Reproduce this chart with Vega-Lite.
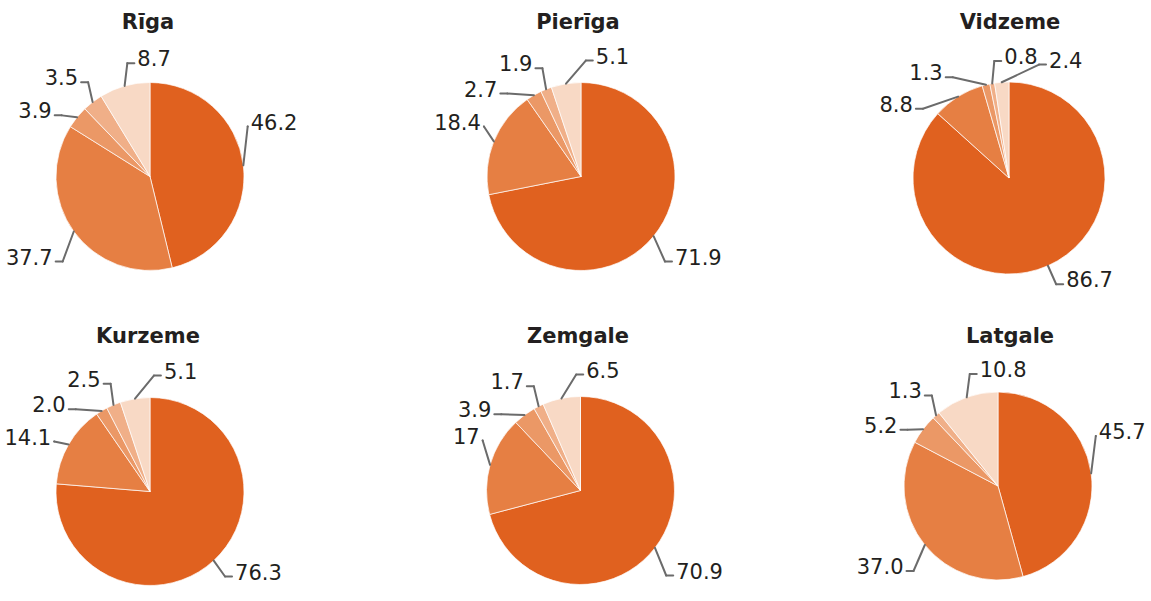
{
  "$schema": "https://vega.github.io/schema/vega-lite/v6.json",
  "background": "white",
  "padding": {"left": 0, "top": 12, "right": 0, "bottom": 0},
  "data": {"values": [
    {"region": "Rīga", "idx": 1, "v": 46.2, "label": "46.2"},
    {"region": "Rīga", "idx": 2, "v": 37.7, "label": "37.7"},
    {"region": "Rīga", "idx": 3, "v": 3.9, "label": "3.9"},
    {"region": "Rīga", "idx": 4, "v": 3.5, "label": "3.5"},
    {"region": "Rīga", "idx": 5, "v": 8.7, "label": "8.7"},
    {"region": "Pierīga", "idx": 1, "v": 71.9, "label": "71.9"},
    {"region": "Pierīga", "idx": 2, "v": 18.4, "label": "18.4"},
    {"region": "Pierīga", "idx": 3, "v": 2.7, "label": "2.7"},
    {"region": "Pierīga", "idx": 4, "v": 1.9, "label": "1.9"},
    {"region": "Pierīga", "idx": 5, "v": 5.1, "label": "5.1"},
    {"region": "Vidzeme", "idx": 1, "v": 86.7, "label": "86.7"},
    {"region": "Vidzeme", "idx": 2, "v": 8.8, "label": "8.8"},
    {"region": "Vidzeme", "idx": 3, "v": 1.3, "label": "1.3"},
    {"region": "Vidzeme", "idx": 4, "v": 0.8, "label": "0.8"},
    {"region": "Vidzeme", "idx": 5, "v": 2.4, "label": "2.4"},
    {"region": "Kurzeme", "idx": 1, "v": 76.3, "label": "76.3"},
    {"region": "Kurzeme", "idx": 2, "v": 14.1, "label": "14.1"},
    {"region": "Kurzeme", "idx": 3, "v": 2.0, "label": "2.0"},
    {"region": "Kurzeme", "idx": 4, "v": 2.5, "label": "2.5"},
    {"region": "Kurzeme", "idx": 5, "v": 5.1, "label": "5.1"},
    {"region": "Zemgale", "idx": 1, "v": 70.9, "label": "70.9"},
    {"region": "Zemgale", "idx": 2, "v": 17, "label": "17"},
    {"region": "Zemgale", "idx": 3, "v": 3.9, "label": "3.9"},
    {"region": "Zemgale", "idx": 4, "v": 1.7, "label": "1.7"},
    {"region": "Zemgale", "idx": 5, "v": 6.5, "label": "6.5"},
    {"region": "Latgale", "idx": 1, "v": 45.7, "label": "45.7"},
    {"region": "Latgale", "idx": 2, "v": 37.0, "label": "37.0"},
    {"region": "Latgale", "idx": 3, "v": 5.2, "label": "5.2"},
    {"region": "Latgale", "idx": 4, "v": 1.3, "label": "1.3"},
    {"region": "Latgale", "idx": 5, "v": 10.8, "label": "10.8"}
  ]},
  "transform": [
    {"window": [{"op": "sum", "field": "v", "as": "cum"}], "groupby": ["region"], "sort": [{"field": "idx", "order": "ascending"}], "frame": [null, 0]},
    {"calculate": "2*PI*(datum.cum - datum.v/2)/100", "as": "a"},
    {"calculate": "datum.a - datum.idx*0.384", "as": "b"},
    {"window": [{"op": "max", "field": "b", "as": "fm"}], "groupby": ["region"], "sort": [{"field": "idx", "order": "ascending"}], "frame": [null, 0]},
    {"window": [{"op": "min", "field": "b", "as": "bm"}], "groupby": ["region"], "sort": [{"field": "idx", "order": "ascending"}], "frame": [0, null]},
    {"calculate": "(datum.fm + datum.bm)/2 + datum.idx*0.384", "as": "la"},
    {"calculate": "datum.region == 'Vidzeme' ? 96 : 94", "as": "R"},
    {"calculate": "datum.R + 2 + 20*abs(cos(datum.la))", "as": "Re"},
    {"calculate": "datum.R*sin(datum.a)", "as": "x0"},
    {"calculate": "datum.R*cos(datum.a)", "as": "y0"},
    {"calculate": "datum.Re*sin(datum.la)", "as": "x1"},
    {"calculate": "datum.Re*cos(datum.la)", "as": "yr"},
    {"calculate": "datum.yr >= 0 ? max(datum.yr, 50) : min(datum.yr, -85)", "as": "y1"},
    {"calculate": "(datum.la > 2*PI - 0.3 || sin(datum.la) >= 0) ? 1 : -1", "as": "s"},
    {"calculate": "(datum.yr >= 0 && datum.yr < 50) ? datum.x1 : datum.x1 + datum.s*7", "as": "x2"},
    {"calculate": "datum.x2 + datum.s*3", "as": "xt"}
  ],
  "columns": 3,
  "spacing": {"row": 44, "column": 132},
  "bounds": "flush",
  "concat": [
      {"width": 296, "height": 270, "title": {"text": "Rīga"},
       "transform": [{"filter": "datum.region == 'Rīga'"}],
       "layer": [
        {"mark": {"type": "arc", "outerRadius": 94, "stroke": "#ffffff", "strokeWidth": 0.7},
         "encoding": {"theta": {"field": "v", "type": "quantitative", "stack": true},
          "order": {"field": "idx", "type": "quantitative"},
          "color": {"field": "idx", "type": "ordinal", "scale": {"domain": [1,2,3,4,5], "range": ["#E0611F","#E67F43","#EB9866","#F0AF88","#F8D9C5"]}, "legend": null},
          "x": {"datum": 0, "type": "quantitative", "scale": {"domain": [-150,146], "nice": false, "zero": false}, "axis": null},
          "y": {"datum": 0, "type": "quantitative", "scale": {"domain": [-128.5,141.5], "nice": false, "zero": false}, "axis": null}}},
        {"mark": {"type": "rule", "color": "#6b6b6b", "strokeWidth": 2, "strokeCap": "round"},
         "encoding": {"x": {"field": "x0", "type": "quantitative", "scale": {"domain": [-150,146], "nice": false, "zero": false}, "axis": null},
          "y": {"field": "y0", "type": "quantitative", "scale": {"domain": [-128.5,141.5], "nice": false, "zero": false}, "axis": null},
          "x2": {"field": "x1"}, "y2": {"field": "y1"}}},
        {"mark": {"type": "rule", "color": "#6b6b6b", "strokeWidth": 2, "strokeCap": "round"},
         "encoding": {"x": {"field": "x1", "type": "quantitative", "scale": {"domain": [-150,146], "nice": false, "zero": false}, "axis": null},
          "y": {"field": "y1", "type": "quantitative", "scale": {"domain": [-128.5,141.5], "nice": false, "zero": false}, "axis": null},
          "x2": {"field": "x2"}, "y2": {"field": "y1"}}},
        {"transform": [{"filter": "datum.s > 0"}],
         "mark": {"type": "text", "align": "left", "baseline": "middle", "dy": -3},
         "encoding": {"x": {"field": "xt", "type": "quantitative", "scale": {"domain": [-150,146], "nice": false, "zero": false}, "axis": null},
          "y": {"field": "y1", "type": "quantitative", "scale": {"domain": [-128.5,141.5], "nice": false, "zero": false}, "axis": null},
          "text": {"field": "label"}}},
        {"transform": [{"filter": "datum.s < 0"}],
         "mark": {"type": "text", "align": "right", "baseline": "middle", "dy": -3},
         "encoding": {"x": {"field": "xt", "type": "quantitative", "scale": {"domain": [-150,146], "nice": false, "zero": false}, "axis": null},
          "y": {"field": "y1", "type": "quantitative", "scale": {"domain": [-128.5,141.5], "nice": false, "zero": false}, "axis": null},
          "text": {"field": "label"}}}
       ]},
      {"width": 300, "height": 270, "title": {"text": "Pierīga"},
       "transform": [{"filter": "datum.region == 'Pierīga'"}],
       "layer": [
        {"mark": {"type": "arc", "outerRadius": 94, "stroke": "#ffffff", "strokeWidth": 0.7},
         "encoding": {"theta": {"field": "v", "type": "quantitative", "stack": true},
          "order": {"field": "idx", "type": "quantitative"},
          "color": {"field": "idx", "type": "ordinal", "scale": {"domain": [1,2,3,4,5], "range": ["#E0611F","#E67F43","#EB9866","#F0AF88","#F8D9C5"]}, "legend": null},
          "x": {"datum": 0, "type": "quantitative", "scale": {"domain": [-153,147], "nice": false, "zero": false}, "axis": null},
          "y": {"datum": 0, "type": "quantitative", "scale": {"domain": [-128.5,141.5], "nice": false, "zero": false}, "axis": null}}},
        {"mark": {"type": "rule", "color": "#6b6b6b", "strokeWidth": 2, "strokeCap": "round"},
         "encoding": {"x": {"field": "x0", "type": "quantitative", "scale": {"domain": [-153,147], "nice": false, "zero": false}, "axis": null},
          "y": {"field": "y0", "type": "quantitative", "scale": {"domain": [-128.5,141.5], "nice": false, "zero": false}, "axis": null},
          "x2": {"field": "x1"}, "y2": {"field": "y1"}}},
        {"mark": {"type": "rule", "color": "#6b6b6b", "strokeWidth": 2, "strokeCap": "round"},
         "encoding": {"x": {"field": "x1", "type": "quantitative", "scale": {"domain": [-153,147], "nice": false, "zero": false}, "axis": null},
          "y": {"field": "y1", "type": "quantitative", "scale": {"domain": [-128.5,141.5], "nice": false, "zero": false}, "axis": null},
          "x2": {"field": "x2"}, "y2": {"field": "y1"}}},
        {"transform": [{"filter": "datum.s > 0"}],
         "mark": {"type": "text", "align": "left", "baseline": "middle", "dy": -3},
         "encoding": {"x": {"field": "xt", "type": "quantitative", "scale": {"domain": [-153,147], "nice": false, "zero": false}, "axis": null},
          "y": {"field": "y1", "type": "quantitative", "scale": {"domain": [-128.5,141.5], "nice": false, "zero": false}, "axis": null},
          "text": {"field": "label"}}},
        {"transform": [{"filter": "datum.s < 0"}],
         "mark": {"type": "text", "align": "right", "baseline": "middle", "dy": -3},
         "encoding": {"x": {"field": "xt", "type": "quantitative", "scale": {"domain": [-153,147], "nice": false, "zero": false}, "axis": null},
          "y": {"field": "y1", "type": "quantitative", "scale": {"domain": [-128.5,141.5], "nice": false, "zero": false}, "axis": null},
          "text": {"field": "label"}}}
       ]},
      {"width": 300, "height": 270, "title": {"text": "Vidzeme"},
       "transform": [{"filter": "datum.region == 'Vidzeme'"}],
       "layer": [
        {"mark": {"type": "arc", "outerRadius": 96, "stroke": "#ffffff", "strokeWidth": 0.7},
         "encoding": {"theta": {"field": "v", "type": "quantitative", "stack": true},
          "order": {"field": "idx", "type": "quantitative"},
          "color": {"field": "idx", "type": "ordinal", "scale": {"domain": [1,2,3,4,5], "range": ["#E0611F","#E67F43","#EB9866","#F0AF88","#F8D9C5"]}, "legend": null},
          "x": {"datum": 0, "type": "quantitative", "scale": {"domain": [-149,151], "nice": false, "zero": false}, "axis": null},
          "y": {"datum": 0, "type": "quantitative", "scale": {"domain": [-127,143], "nice": false, "zero": false}, "axis": null}}},
        {"mark": {"type": "rule", "color": "#6b6b6b", "strokeWidth": 2, "strokeCap": "round"},
         "encoding": {"x": {"field": "x0", "type": "quantitative", "scale": {"domain": [-149,151], "nice": false, "zero": false}, "axis": null},
          "y": {"field": "y0", "type": "quantitative", "scale": {"domain": [-127,143], "nice": false, "zero": false}, "axis": null},
          "x2": {"field": "x1"}, "y2": {"field": "y1"}}},
        {"mark": {"type": "rule", "color": "#6b6b6b", "strokeWidth": 2, "strokeCap": "round"},
         "encoding": {"x": {"field": "x1", "type": "quantitative", "scale": {"domain": [-149,151], "nice": false, "zero": false}, "axis": null},
          "y": {"field": "y1", "type": "quantitative", "scale": {"domain": [-127,143], "nice": false, "zero": false}, "axis": null},
          "x2": {"field": "x2"}, "y2": {"field": "y1"}}},
        {"transform": [{"filter": "datum.s > 0"}],
         "mark": {"type": "text", "align": "left", "baseline": "middle", "dy": -3},
         "encoding": {"x": {"field": "xt", "type": "quantitative", "scale": {"domain": [-149,151], "nice": false, "zero": false}, "axis": null},
          "y": {"field": "y1", "type": "quantitative", "scale": {"domain": [-127,143], "nice": false, "zero": false}, "axis": null},
          "text": {"field": "label"}}},
        {"transform": [{"filter": "datum.s < 0"}],
         "mark": {"type": "text", "align": "right", "baseline": "middle", "dy": -3},
         "encoding": {"x": {"field": "xt", "type": "quantitative", "scale": {"domain": [-149,151], "nice": false, "zero": false}, "axis": null},
          "y": {"field": "y1", "type": "quantitative", "scale": {"domain": [-127,143], "nice": false, "zero": false}, "axis": null},
          "text": {"field": "label"}}}
       ]},
      {"width": 296, "height": 270, "title": {"text": "Kurzeme"},
       "transform": [{"filter": "datum.region == 'Kurzeme'"}],
       "layer": [
        {"mark": {"type": "arc", "outerRadius": 94, "stroke": "#ffffff", "strokeWidth": 0.7},
         "encoding": {"theta": {"field": "v", "type": "quantitative", "stack": true},
          "order": {"field": "idx", "type": "quantitative"},
          "color": {"field": "idx", "type": "ordinal", "scale": {"domain": [1,2,3,4,5], "range": ["#E0611F","#E67F43","#EB9866","#F0AF88","#F8D9C5"]}, "legend": null},
          "x": {"datum": 0, "type": "quantitative", "scale": {"domain": [-150,146], "nice": false, "zero": false}, "axis": null},
          "y": {"datum": 0, "type": "quantitative", "scale": {"domain": [-127.5,142.5], "nice": false, "zero": false}, "axis": null}}},
        {"mark": {"type": "rule", "color": "#6b6b6b", "strokeWidth": 2, "strokeCap": "round"},
         "encoding": {"x": {"field": "x0", "type": "quantitative", "scale": {"domain": [-150,146], "nice": false, "zero": false}, "axis": null},
          "y": {"field": "y0", "type": "quantitative", "scale": {"domain": [-127.5,142.5], "nice": false, "zero": false}, "axis": null},
          "x2": {"field": "x1"}, "y2": {"field": "y1"}}},
        {"mark": {"type": "rule", "color": "#6b6b6b", "strokeWidth": 2, "strokeCap": "round"},
         "encoding": {"x": {"field": "x1", "type": "quantitative", "scale": {"domain": [-150,146], "nice": false, "zero": false}, "axis": null},
          "y": {"field": "y1", "type": "quantitative", "scale": {"domain": [-127.5,142.5], "nice": false, "zero": false}, "axis": null},
          "x2": {"field": "x2"}, "y2": {"field": "y1"}}},
        {"transform": [{"filter": "datum.s > 0"}],
         "mark": {"type": "text", "align": "left", "baseline": "middle", "dy": -3},
         "encoding": {"x": {"field": "xt", "type": "quantitative", "scale": {"domain": [-150,146], "nice": false, "zero": false}, "axis": null},
          "y": {"field": "y1", "type": "quantitative", "scale": {"domain": [-127.5,142.5], "nice": false, "zero": false}, "axis": null},
          "text": {"field": "label"}}},
        {"transform": [{"filter": "datum.s < 0"}],
         "mark": {"type": "text", "align": "right", "baseline": "middle", "dy": -3},
         "encoding": {"x": {"field": "xt", "type": "quantitative", "scale": {"domain": [-150,146], "nice": false, "zero": false}, "axis": null},
          "y": {"field": "y1", "type": "quantitative", "scale": {"domain": [-127.5,142.5], "nice": false, "zero": false}, "axis": null},
          "text": {"field": "label"}}}
       ]},
      {"width": 300, "height": 270, "title": {"text": "Zemgale"},
       "transform": [{"filter": "datum.region == 'Zemgale'"}],
       "layer": [
        {"mark": {"type": "arc", "outerRadius": 94, "stroke": "#ffffff", "strokeWidth": 0.7},
         "encoding": {"theta": {"field": "v", "type": "quantitative", "stack": true},
          "order": {"field": "idx", "type": "quantitative"},
          "color": {"field": "idx", "type": "ordinal", "scale": {"domain": [1,2,3,4,5], "range": ["#E0611F","#E67F43","#EB9866","#F0AF88","#F8D9C5"]}, "legend": null},
          "x": {"datum": 0, "type": "quantitative", "scale": {"domain": [-152.5,147.5], "nice": false, "zero": false}, "axis": null},
          "y": {"datum": 0, "type": "quantitative", "scale": {"domain": [-128.5,141.5], "nice": false, "zero": false}, "axis": null}}},
        {"mark": {"type": "rule", "color": "#6b6b6b", "strokeWidth": 2, "strokeCap": "round"},
         "encoding": {"x": {"field": "x0", "type": "quantitative", "scale": {"domain": [-152.5,147.5], "nice": false, "zero": false}, "axis": null},
          "y": {"field": "y0", "type": "quantitative", "scale": {"domain": [-128.5,141.5], "nice": false, "zero": false}, "axis": null},
          "x2": {"field": "x1"}, "y2": {"field": "y1"}}},
        {"mark": {"type": "rule", "color": "#6b6b6b", "strokeWidth": 2, "strokeCap": "round"},
         "encoding": {"x": {"field": "x1", "type": "quantitative", "scale": {"domain": [-152.5,147.5], "nice": false, "zero": false}, "axis": null},
          "y": {"field": "y1", "type": "quantitative", "scale": {"domain": [-128.5,141.5], "nice": false, "zero": false}, "axis": null},
          "x2": {"field": "x2"}, "y2": {"field": "y1"}}},
        {"transform": [{"filter": "datum.s > 0"}],
         "mark": {"type": "text", "align": "left", "baseline": "middle", "dy": -3},
         "encoding": {"x": {"field": "xt", "type": "quantitative", "scale": {"domain": [-152.5,147.5], "nice": false, "zero": false}, "axis": null},
          "y": {"field": "y1", "type": "quantitative", "scale": {"domain": [-128.5,141.5], "nice": false, "zero": false}, "axis": null},
          "text": {"field": "label"}}},
        {"transform": [{"filter": "datum.s < 0"}],
         "mark": {"type": "text", "align": "right", "baseline": "middle", "dy": -3},
         "encoding": {"x": {"field": "xt", "type": "quantitative", "scale": {"domain": [-152.5,147.5], "nice": false, "zero": false}, "axis": null},
          "y": {"field": "y1", "type": "quantitative", "scale": {"domain": [-128.5,141.5], "nice": false, "zero": false}, "axis": null},
          "text": {"field": "label"}}}
       ]},
      {"width": 300, "height": 270, "title": {"text": "Latgale"},
       "transform": [{"filter": "datum.region == 'Latgale'"}],
       "layer": [
        {"mark": {"type": "arc", "outerRadius": 94, "stroke": "#ffffff", "strokeWidth": 0.7},
         "encoding": {"theta": {"field": "v", "type": "quantitative", "stack": true},
          "order": {"field": "idx", "type": "quantitative"},
          "color": {"field": "idx", "type": "ordinal", "scale": {"domain": [1,2,3,4,5], "range": ["#E0611F","#E67F43","#EB9866","#F0AF88","#F8D9C5"]}, "legend": null},
          "x": {"datum": 0, "type": "quantitative", "scale": {"domain": [-138,162], "nice": false, "zero": false}, "axis": null},
          "y": {"datum": 0, "type": "quantitative", "scale": {"domain": [-133,137], "nice": false, "zero": false}, "axis": null}}},
        {"mark": {"type": "rule", "color": "#6b6b6b", "strokeWidth": 2, "strokeCap": "round"},
         "encoding": {"x": {"field": "x0", "type": "quantitative", "scale": {"domain": [-138,162], "nice": false, "zero": false}, "axis": null},
          "y": {"field": "y0", "type": "quantitative", "scale": {"domain": [-133,137], "nice": false, "zero": false}, "axis": null},
          "x2": {"field": "x1"}, "y2": {"field": "y1"}}},
        {"mark": {"type": "rule", "color": "#6b6b6b", "strokeWidth": 2, "strokeCap": "round"},
         "encoding": {"x": {"field": "x1", "type": "quantitative", "scale": {"domain": [-138,162], "nice": false, "zero": false}, "axis": null},
          "y": {"field": "y1", "type": "quantitative", "scale": {"domain": [-133,137], "nice": false, "zero": false}, "axis": null},
          "x2": {"field": "x2"}, "y2": {"field": "y1"}}},
        {"transform": [{"filter": "datum.s > 0"}],
         "mark": {"type": "text", "align": "left", "baseline": "middle", "dy": -3},
         "encoding": {"x": {"field": "xt", "type": "quantitative", "scale": {"domain": [-138,162], "nice": false, "zero": false}, "axis": null},
          "y": {"field": "y1", "type": "quantitative", "scale": {"domain": [-133,137], "nice": false, "zero": false}, "axis": null},
          "text": {"field": "label"}}},
        {"transform": [{"filter": "datum.s < 0"}],
         "mark": {"type": "text", "align": "right", "baseline": "middle", "dy": -3},
         "encoding": {"x": {"field": "xt", "type": "quantitative", "scale": {"domain": [-138,162], "nice": false, "zero": false}, "axis": null},
          "y": {"field": "y1", "type": "quantitative", "scale": {"domain": [-133,137], "nice": false, "zero": false}, "axis": null},
          "text": {"field": "label"}}}
       ]}
  ],
  "config": {
    "view": {"stroke": null},
    "text": {"font": "DejaVu Sans", "fontSize": 21, "color": "#231F20"},
    "title": {"font": "DejaVu Sans", "fontSize": 21, "fontWeight": "bold", "color": "#231F20", "offset": 2, "anchor": "middle"}
  }
}
